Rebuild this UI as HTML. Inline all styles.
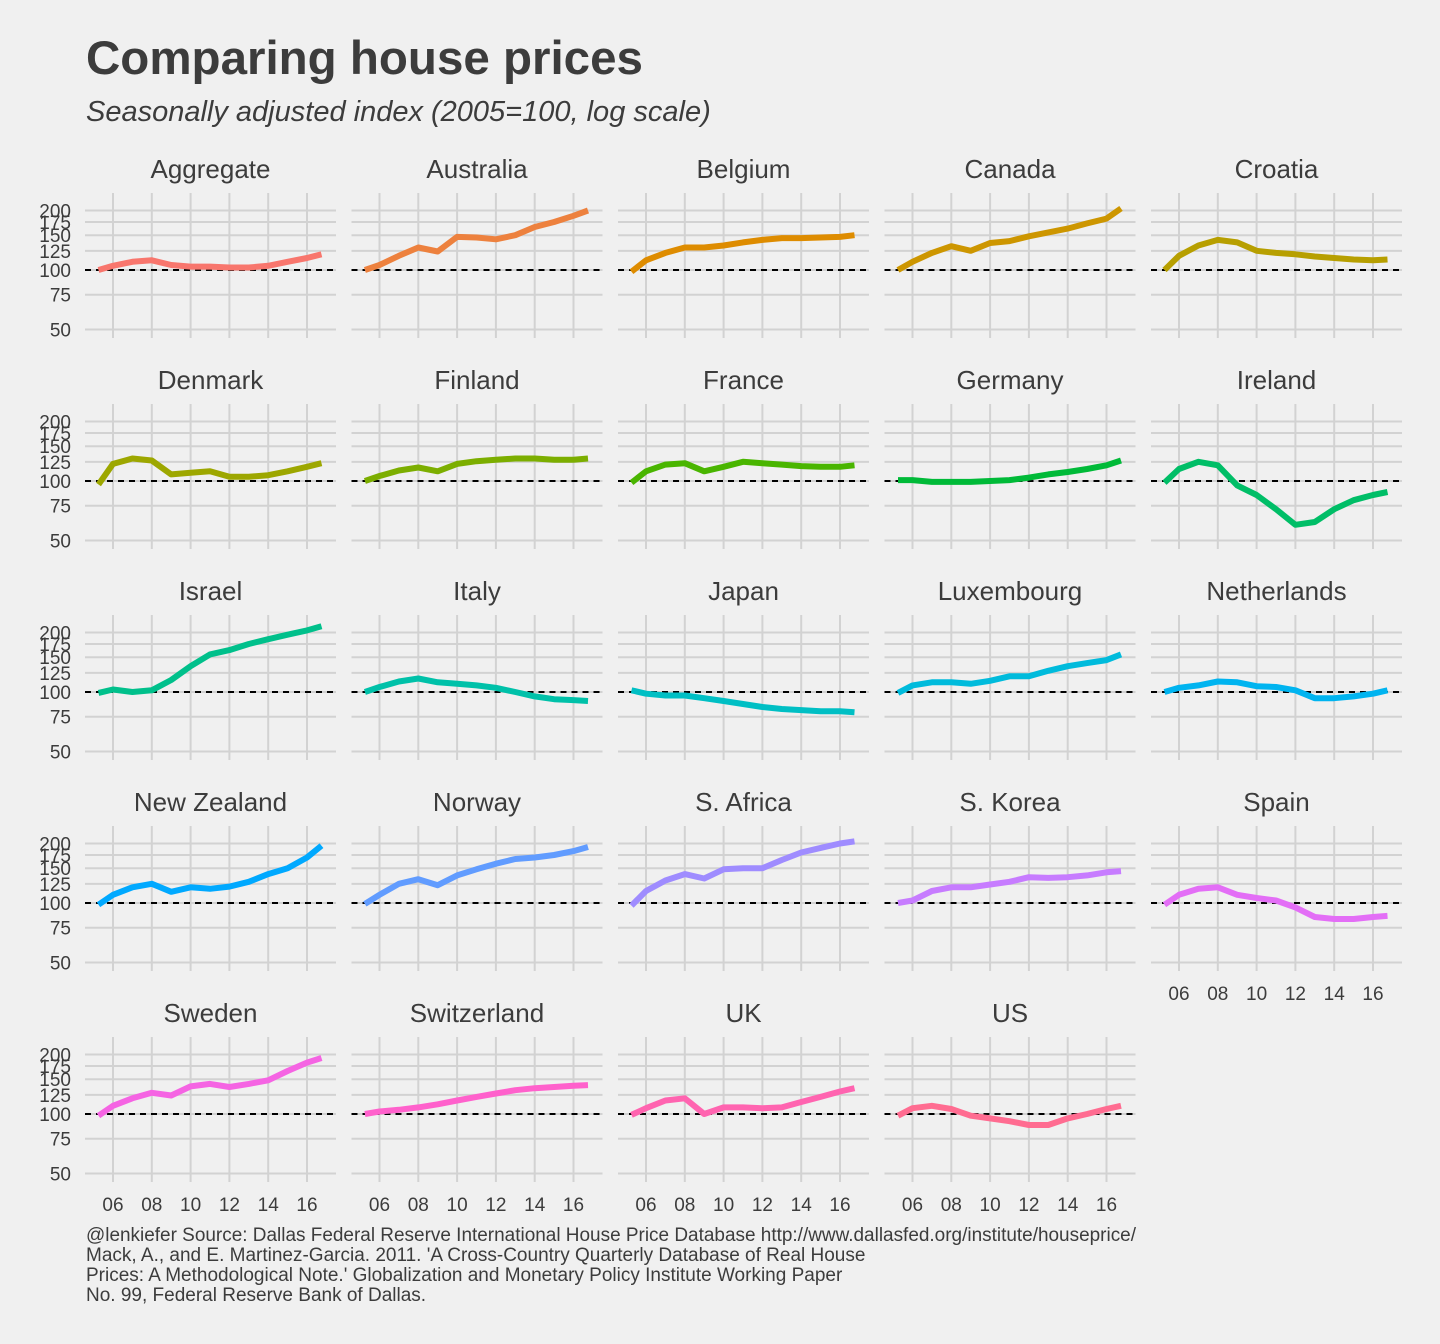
<!DOCTYPE html>
<html><head><meta charset="utf-8"><style>
body{margin:0;background:#f0f0f0;font-family:"Liberation Sans",sans-serif;}
svg{display:block}
</style></head><body>
<svg id="chart" width="1440" height="1344" xmlns="http://www.w3.org/2000/svg">
<rect width="1440" height="1344" fill="#f0f0f0"/>
<text x="86" y="74" font-size="47.5" font-weight="bold" fill="#3c3c3c">Comparing house prices</text>
<text x="86" y="121" font-size="29" font-style="italic" fill="#3c3c3c">Seasonally adjusted index (2005=100, log scale)</text>
<g id="panels"></g>
<g font-size="19" fill="#3c3c3c">
<text x="86" y="1241" textLength="1050" lengthAdjust="spacingAndGlyphs">@lenkiefer Source: Dallas Federal Reserve International House Price Database  http://www.dallasfed.org/institute/houseprice/</text>
<text x="86" y="1261">Mack, A., and E. Martinez-Garcia. 2011. 'A Cross-Country Quarterly Database of Real House</text>
<text x="86" y="1281">Prices: A Methodological Note.' Globalization and Monetary Policy Institute Working Paper</text>
<text x="86" y="1301">No. 99, Federal Reserve Bank of Dallas.</text>
</g>
</svg>
<script>
const countries=["Aggregate","Australia","Belgium","Canada","Croatia","Denmark","Finland","France","Germany","Ireland","Israel","Italy","Japan","Luxembourg","Netherlands","New Zealand","Norway","S. Africa","S. Korea","Spain","Sweden","Switzerland","UK","US"];
const years=[2005.25,2006,2007,2008,2009,2010,2011,2012,2013,2014,2015,2016,2016.75];
const yTicks=[50,75,100,125,150,175,200];
const xTicks=[2006,2008,2010,2012,2014,2016];
const xTickLabels=["06","08","10","12","14","16"];
const vAggregate=[100,105,110,112,106,104,104,103,103,105,110,115,120];
const vAustralia=[100,106,118,130,124,147,146,143,150,165,175,188,200];
const vBelgium=[98,112,122,130,130,133,138,142,145,145,146,147,150];
const vCanada=[100,110,122,132,125,137,140,148,155,162,172,182,205];
const vCroatia=[100,118,133,142,138,125,122,120,117,115,113,112,113];
const vDenmark=[96,122,130,127,108,110,112,105,105,107,112,118,123];
const vFinland=[100,106,113,117,112,122,126,128,130,130,128,128,130];
const vFrance=[98,112,121,123,112,118,125,123,121,119,118,118,120];
const vGermany=[101,101,99,99,99,100,101,104,108,111,115,120,127];
const vIreland=[98,115,125,120,95,85,72,60,62,72,80,85,88];
const vIsrael=[99,103,100,102,115,135,155,163,175,185,195,205,215];
const vItaly=[100,106,113,117,112,110,108,105,100,95,92,91,90];
const vJapan=[102,98,96,96,93,90,87,84,82,81,80,80,79];
const vLuxembourg=[99,108,112,112,110,114,120,120,128,135,140,145,155];
const vNetherlands=[100,105,108,113,112,107,106,102,93,93,95,98,102];
const vNewZealand=[98,110,120,125,114,120,118,121,128,140,150,170,195];
const vNorway=[99,110,125,132,123,138,148,158,167,170,175,183,192];
const vSAfrica=[97,115,130,140,133,148,150,150,165,180,190,200,205];
const vSKorea=[100,103,115,120,120,124,128,135,134,135,138,143,145];
const vSpain=[98,110,118,120,110,106,103,95,85,83,83,85,86];
const vSweden=[98,110,120,128,124,138,142,137,142,148,165,182,192];
const vSwitzerland=[100,103,105,108,112,117,122,127,132,135,137,139,140];
const vUK=[99,107,117,120,100,108,108,107,108,115,122,130,135];
const vUS=[98,107,110,106,98,95,92,88,88,95,100,106,110];
const series=[vAggregate,vAustralia,vBelgium,vCanada,vCroatia,vDenmark,vFinland,vFrance,vGermany,vIreland,vIsrael,vItaly,vJapan,vLuxembourg,vNetherlands,vNewZealand,vNorway,vSAfrica,vSKorea,vSpain,vSweden,vSwitzerland,vUK,vUS];

function hcl(h){const L=65,C=100,r=h*Math.PI/180;const u=C*Math.cos(r),v=C*Math.sin(r);
const Xn=95.047,Yn=100,Zn=108.883,d=Xn+15*Yn+3*Zn,un=4*Xn/d,vn=9*Yn/d;
const Y=Yn*Math.pow((L+16)/116,3),up=u/(13*L)+un,vp=v/(13*L)+vn;
const X=Y*9*up/(4*vp),Z=Y*(12-3*up-20*vp)/(4*vp);
const x=X/100,y=Y/100,z=Z/100;
let rgb=[3.2406*x-1.5372*y-0.4986*z,-0.9689*x+1.8758*y+0.0415*z,0.0557*x-0.2040*y+1.0570*z];
rgb=rgb.map(c=>{c=c<=0.0031308?12.92*c:1.055*Math.pow(c,1/2.4)-0.055;return Math.round(Math.max(0,Math.min(1,c))*255);});
return `rgb(${rgb.join(',')})`;}
const NS="http://www.w3.org/2000/svg";
const root=document.getElementById('panels');
function mk(tag,attrs,parent){const e=document.createElementNS(NS,tag);for(const k in attrs)e.setAttribute(k,attrs[k]);parent.appendChild(e);return e;}
const colW=266.5,rowH=211;
countries.forEach((name,i)=>{
 const col=i%5,row=Math.floor(i/5);
 const ox=col*colW,oy=row*rowH;
 const xs=t=>ox+113+(t-2006)*19.4;
 const ys=v=>oy+270-Math.log2(v/100)*59.5;
 const g=mk('g',{},root);
 
 
 const px0=ox+85,px1=ox+336,py0=oy+193,py1=oy+338;
 yTicks.forEach(t=>{const l=mk('line',{x1:px0,x2:px1,y1:ys(t),y2:ys(t),stroke:'#d2d2d2','stroke-width':2},g);
  });
 xTicks.forEach(t=>{const l=mk('line',{x1:xs(t),x2:xs(t),y1:py0,y2:py1,stroke:'#d2d2d2','stroke-width':2},g);
  });
 const ref=mk('line',{x1:px0,x2:px1,y1:ys(100),y2:ys(100),stroke:'#000','stroke-width':2,'stroke-dasharray':'6,5'},g);
 
 const t=mk('text',{x:(px0+px1)/2,y:oy+178,'text-anchor':'middle','font-size':26,fill:'#3c3c3c'},g);
 t.textContent=name;
 
 const d=series[i].map((v,k)=>(k?'L':'M')+xs(years[k]).toFixed(1)+','+ys(v).toFixed(1)).join(' ');
 const p=mk('path',{d:d,fill:'none',stroke:hcl(15+360*i/24),'stroke-width':6,'stroke-linejoin':'round','stroke-linecap':'butt'},g);
 
 if(col===0){yTicks.forEach(v=>{const tt=mk('text',{x:71,y:ys(v)+7,'text-anchor':'end','font-size':19,fill:'#3c3c3c'},g);
  tt.textContent=v;});}
 if(row===4||i===19){xTicks.forEach((v,k)=>{const tt=mk('text',{x:xs(v),y:oy+270+97,'text-anchor':'middle','font-size':19,fill:'#3c3c3c'},g);
  tt.textContent=xTickLabels[k];});}
});
</script>
</body></html>
